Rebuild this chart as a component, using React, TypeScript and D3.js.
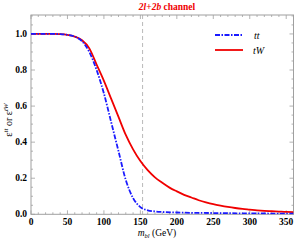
import React from "react";
import * as d3 from "d3";

const massTW = [0, 10, 20, 30, 40, 50, 60, 70, 80, 90, 100, 110, 120, 130, 140, 150, 160, 170, 180, 190, 200, 210, 220, 230, 240, 250, 260, 270, 280, 290, 300, 310, 320, 330, 340, 350, 360];
const effTW = [1.0, 1.0, 1.0, 1.0, 0.999, 0.995, 0.985, 0.965, 0.92, 0.83, 0.74, 0.64, 0.54, 0.44, 0.36, 0.295, 0.245, 0.205, 0.175, 0.148, 0.127, 0.108, 0.093, 0.078, 0.066, 0.056, 0.048, 0.041, 0.035, 0.03, 0.026, 0.022, 0.019, 0.017, 0.015, 0.013, 0.012];
const massTT = [0, 10, 20, 30, 40, 50, 60, 70, 80, 90, 100, 110, 120, 130, 140, 150, 160, 170, 180, 200, 250, 300, 350, 360];
const effTT = [1.0, 1.0, 1.0, 1.0, 0.999, 0.995, 0.985, 0.96, 0.9, 0.8, 0.67, 0.51, 0.35, 0.19, 0.09, 0.04, 0.022, 0.016, 0.013, 0.01, 0.007, 0.005, 0.004, 0.004];
const xTicks = [0, 50, 100, 150, 200, 250, 300, 350];
const yTicks = [0.0, 0.2, 0.4, 0.6, 0.8, 1.0];
const cutMass = 153;

export default function App() {
  const W = 295, H = 244;
  const left = 31, right = 293.5, top = 15, bottom = 214.3;
  const x = d3.scaleLinear().domain([0, 360]).range([left, right]);
  const y = d3.scaleLinear().domain([0, 1.105]).range([bottom, top]);
  const line = d3.line<[number, number]>().x(d => x(d[0])).y(d => y(d[1])).curve(d3.curveMonotoneX);
  const tw = line(massTW.map((m, i) => [m, effTW[i]] as [number, number]))!;
  const tt = line(massTT.map((m, i) => [m, effTT[i]] as [number, number]))!;
  const frame = "#a0a0a0";
  const xMinor = d3.range(0, 361, 10);
  const yMinor = d3.range(0, 1.1001, 0.05);
  const tickFont = { fontFamily: "Liberation Serif, Times New Roman, serif", fontWeight: "bold", fontSize: 9.5 } as const;
  return (
    <svg width={W} height={H} style={{ position: "absolute", left: 0, top: 0 }}>
      <rect x={0} y={0} width={W} height={H} fill="white" />
      <defs>
        <clipPath id="pc"><rect x={left} y={top} width={right - left} height={bottom - top} /></clipPath>
      </defs>
      {xMinor.map(v => {
        const major = v % 50 === 0;
        const l = major ? 4 : 2;
        return (
          <g key={"xm" + v} stroke={frame} strokeWidth={0.8}>
            <line x1={x(v)} x2={x(v)} y1={bottom} y2={bottom - l} />
            <line x1={x(v)} x2={x(v)} y1={top} y2={top + l} />
          </g>
        );
      })}
      {yMinor.map(v => {
        const major = Math.abs(Math.round(v * 5) - v * 5) < 1e-6;
        const l = major ? 4 : 2;
        return (
          <g key={"ym" + v} stroke={frame} strokeWidth={0.8}>
            <line x1={left} x2={left + l} y1={y(v)} y2={y(v)} />
            <line x1={right} x2={right - l} y1={y(v)} y2={y(v)} />
          </g>
        );
      })}
      <rect x={left} y={top} width={right - left} height={bottom - top} fill="none" stroke={frame} strokeWidth={1} />
      {xTicks.map(v => (
        <text key={"xt" + v} x={x(v)} y={224.5} textAnchor="middle" {...tickFont}>{v}</text>
      ))}
      {yTicks.map(v => (
        <text key={"yt" + v} x={27} y={y(v) + 3} textAnchor="end" {...tickFont}>{v.toFixed(1)}</text>
      ))}
      <line x1={x(cutMass)} x2={x(cutMass)} y1={top} y2={bottom} stroke="#a8a8a8" strokeWidth={0.8} strokeDasharray="4,3" />
      <g clipPath="url(#pc)">
        <path d={tw} fill="none" stroke="#f00000" strokeWidth={1.8} />
        <path d={tt} fill="none" stroke="#1a1aff" strokeWidth={1.8} strokeDasharray="5,1.5,1.5,1.5" />
      </g>
      <line x1={215} x2={243} y1={35} y2={35} stroke="#1a1aff" strokeWidth={1.8} strokeDasharray="5,1.5,1.5,1.5" />
      <line x1={215} x2={243} y1={50} y2={50} stroke="#f00000" strokeWidth={1.8} />
      <text x={254} y={38.5} fontFamily="Liberation Serif, serif" fontStyle="italic" fontSize={10}>tt</text>
      <text x={253} y={53.5} fontFamily="Liberation Serif, serif" fontStyle="italic" fontSize={10}>tW</text>
      <text x={167} y={10} textAnchor="middle" fill="#f00000" fontFamily="Liberation Serif, serif" fontWeight="bold" fontSize={9.5}>
        <tspan fontStyle="italic">2l</tspan>+<tspan fontStyle="italic">2b</tspan> channel
      </text>
      <text x={157} y={236} textAnchor="middle" fontFamily="Liberation Serif, serif" fontSize={9.5}>
        <tspan fontStyle="italic">m</tspan><tspan fontStyle="italic" fontSize={6.5} dy={1.5}>bl</tspan><tspan dy={-1.5}> (GeV)</tspan>
      </text>
      <text transform="translate(12,120) rotate(-90)" textAnchor="middle" fontFamily="Liberation Serif, serif" fontSize={10}>
        ε<tspan fontStyle="italic" fontSize={7} dy={-4}>tt</tspan><tspan dy={4}> or ε</tspan><tspan fontStyle="italic" fontSize={7} dy={-4}>tW</tspan>
      </text>
    </svg>
  );
}
